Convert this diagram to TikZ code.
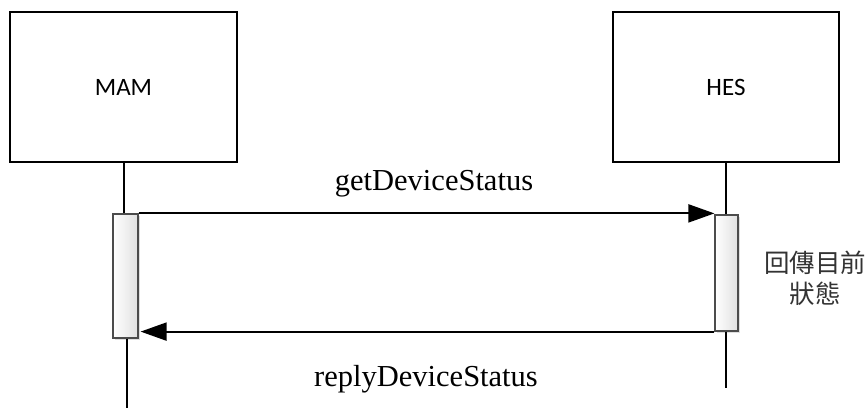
\documentclass[tikz,border=0pt]{standalone}
\usepackage{fontspec}
\setmainfont{Liberation Serif}
\newfontfamily\calfont{Carlito}
\newfontfamily\cjkfont{Noto Sans CJK TC}
\usetikzlibrary{arrows.meta,shadows}
\begin{document}
\begin{tikzpicture}[x=1pt,y=-1pt,
  actor/.style={draw=black,line width=1.3pt,minimum width=227pt,minimum height=150pt,inner sep=0pt,font=\calfont\fontsize{25}{28}\selectfont},
  actbox/.style={draw=black!70,line width=1.2pt,left color=white,right color=black!12,inner sep=0pt,
     drop shadow={shadow xshift=2pt,shadow yshift=-2pt,fill=black!25,opacity=0.5}},
  life/.style={line width=1.6pt},
  msg/.style={line width=2pt,-{Triangle[length=26pt,width=18pt]}},
  lbl/.style={font=\fontsize{30.5}{34}\selectfont,inner sep=0pt,anchor=base}]
\useasboundingbox (0,0) rectangle (868,412);
\node[actor] (mam) at (123.5,87) {\raisebox{-2.5pt}{MAM}};
\node[actor,minimum width=226pt] (hes) at (726,87) {\raisebox{-2.5pt}{HES}};
\node[actbox,minimum width=25pt,minimum height=124pt] (amam) at (125.5,276) {};
\node[actbox,minimum width=23pt,minimum height=116pt] (ahes) at (726.5,273) {};
\coordinate (endmam) at (127,408);
\coordinate (endhes) at (726,388);
\draw[life] (mam.south -| 124,0) -- (amam.north -| 124,0);
\draw[life] (amam.south -| 127,0) -- (endmam);
\draw[life] (hes.south) -- (hes.south |- ahes.north);
\draw[life] (ahes.south -| hes.south) -- (endhes);
\draw[msg] (amam.north east) -- (amam.north east -| ahes.west);
\draw[msg] (ahes.south west) -- ([xshift=2pt]ahes.south west -| amam.east);
\node[lbl] (t1) at (434,190) {getDeviceStatus};
\node[lbl] (t2) at (426,386) {replyDeviceStatus};
\node[font=\cjkfont\fontsize{25.5}{31}\selectfont,align=center,text=black!80,inner sep=0pt] (t3) at (815,278) {回傳目前\\狀態};
\end{tikzpicture}
\end{document}
